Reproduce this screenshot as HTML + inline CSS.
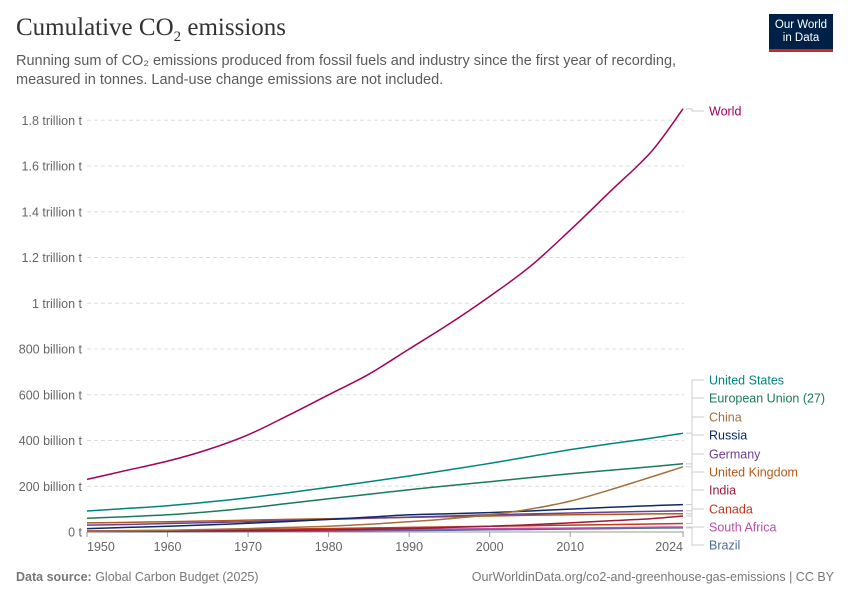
<!DOCTYPE html>
<html><head><meta charset="utf-8">
<style>
body{margin:0;background:#fff;font-family:"Liberation Sans",sans-serif;}
#wrap{position:relative;width:850px;height:600px;overflow:hidden}
h1{position:absolute;left:16px;top:14px;margin:0;font-family:"Liberation Serif",serif;font-weight:normal;font-size:25px;color:#333}
.sub{position:absolute;left:16px;top:52px;font-size:14.5px;line-height:19px;color:#5b5b5b;width:700px}
.logo{position:absolute;left:769px;top:14px;width:64px;height:38px;background:#002147;color:#fff;font-size:11.5px;text-align:center;line-height:13px;padding-top:5px;box-sizing:border-box;border-bottom:3px solid #ce261e}
.foot{position:absolute;top:570px;font-size:12.5px;color:#777}
</style></head><body>
<div id="wrap">
<h1>Cumulative CO<sub style="font-size:15px">2</sub> emissions</h1>
<div class="sub">Running sum of CO₂ emissions produced from fossil fuels and industry since the first year of recording, measured in tonnes. Land-use change emissions are not included.</div>
<div class="logo">Our World<br>in Data</div>
<svg id="chart" width="850" height="600" style="position:absolute;left:0;top:0"></svg>
<div class="foot" style="left:16px"><b>Data source:</b> Global Carbon Budget (2025)</div>
<div class="foot" style="right:16px">OurWorldinData.org/co2-and-greenhouse-gas-emissions | CC BY</div>
</div>
<script>
const years=[1950,1955,1960,1965,1970,1975,1980,1985,1990,1995,2000,2005,2010,2015,2020,2024];
const world=[230,270,310,360,425,510,600,690,800,910,1030,1160,1320,1490,1660,1850];
const us=[92,103,115,131,150,172,195,220,245,272,300,330,360,386,410,432];
const eu=[60,67,75,88,105,125,145,165,185,203,220,238,255,270,285,298];
const china=[2,5,8,11,15,20,25,34,45,58,75,100,135,185,240,285];
const russia=[15,20,25,31,38,46,55,65,75,80,85,92,100,108,115,120];
const germany=[30,33,37,41,45,50,55,60,65,70,75,79,83,87,90,93];
const uk=[40,42,45,48,52,55,58,61,64,67,70,73,75,77,79,80];
const india=[3,3.5,4,5,6,7,9,12,15,20,25,32,40,49,58,70];
const canada=[5,6,7,9,11,13,15,17.5,20,22.5,25,27.5,30,32.5,35,37];
const southAfrica=[3,3.5,4,5,6,7,8,10,11,13,14,16,17,19,21,22];
const brazil=[1,1.3,1.6,2,2.5,3.5,4.5,5.5,6.5,8,9.5,11,13,15,17,18];
const series=[
 ["World",world,"#a2005a",111],["United States",us,"#00847e",380],["European Union (27)",eu,"#1b7a5a",398],
 ["China",china,"#a3703a",417],["Russia",russia,"#0c2a66",435],["Germany",germany,"#6d3e91",454],
 ["United Kingdom",uk,"#b05a1a",472],["India",india,"#971b3c",490],["Canada",canada,"#c0391a",509],
 ["South Africa",southAfrica,"#b84ea6",527],["Brazil",brazil,"#4c6a9c",545]];
const yTicks=[0,200,400,600,800,1000,1200,1400,1600,1800];
const yTickLabels=["0 t","200 billion t","400 billion t","600 billion t","800 billion t","1 trillion t","1.2 trillion t","1.4 trillion t","1.6 trillion t","1.8 trillion t"];
const xTicks=[1950,1960,1970,1980,1990,2000,2010,2024];
const X=y=>87+(y-1950)*(596/74);
const Y=v=>532-v*(45.75/200);
const svg=document.getElementById('chart');
const NS="http://www.w3.org/2000/svg";
function mk(t,a){const e=document.createElementNS(NS,t);for(const k in a)e.setAttribute(k,a[k]);svg.appendChild(e);return e;}
function smooth(pts){
 let d='M'+pts[0][0].toFixed(1)+','+pts[0][1].toFixed(1);
 for(let i=0;i<pts.length-1;i++){
  const p0=pts[Math.max(0,i-1)],p1=pts[i],p2=pts[i+1],p3=pts[Math.min(pts.length-1,i+2)];
  const c1=[p1[0]+(p2[0]-p0[0])/6,p1[1]+(p2[1]-p0[1])/6];
  const c2=[p2[0]-(p3[0]-p1[0])/6,p2[1]-(p3[1]-p1[1])/6];
  d+=`C${c1[0].toFixed(1)},${c1[1].toFixed(1)} ${c2[0].toFixed(1)},${c2[1].toFixed(1)} ${p2[0].toFixed(1)},${p2[1].toFixed(1)}`;
 }
 return d;
}
yTicks.forEach((v,i)=>{
 if(v>0){const l=mk('line',{x1:87,x2:684,y1:Y(v),y2:Y(v),stroke:'#ddd','stroke-dasharray':'4,3'});
 
 }
 const t=mk('text',{x:82,y:Y(v)+4.5,'text-anchor':'end','font-size':'12.5',fill:'#666'});
 t.textContent=yTickLabels[i];
 
 
});
const ax=mk('line',{x1:87,x2:684,y1:532,y2:532,stroke:'#999'});


xTicks.forEach((v,i)=>{
 mk('line',{x1:X(v),x2:X(v),y1:532,y2:537,stroke:'#999'});
 const anchor=i===0?'start':(i===xTicks.length-1?'end':'middle');
 const t=mk('text',{x:X(v),y:551,'text-anchor':anchor,'font-size':'12.5',fill:'#666'});
 t.textContent=v;
 
 
});
series.slice().reverse().forEach(([name,vals,col,ly])=>{
 const pts=vals.map((v,i)=>[X(years[i]),Y(v)]);
 const p=mk('path',{d:smooth(pts),fill:'none',stroke:col,'stroke-width':1.5});
 
 
 const ey=Y(vals[vals.length-1]);
 mk('path',{d:`M686,${ey}H692V${ly}H704`,fill:'none',stroke:'#ccc','stroke-width':1});
 const t=mk('text',{x:709,y:ly+4.5,'font-size':'12.5',fill:col});
 t.textContent=name;
 
 
});
</script>
</body></html>
